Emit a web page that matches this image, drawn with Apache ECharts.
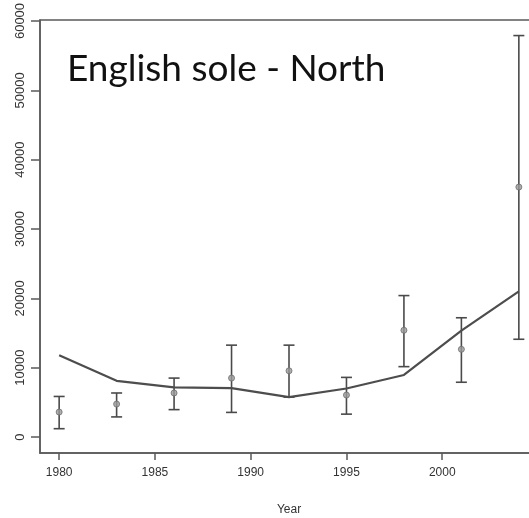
<!DOCTYPE html>
<html>
<head>
<meta charset="utf-8">
<script src="https://cdn.jsdelivr.net/npm/echarts@6/dist/echarts.min.js"></script>
<style>
  html, body { margin: 0; padding: 0; background: #fff; }
  #chart { width: 529px; height: 518px; }
</style>
</head>
<body>
<div id="chart"></div>
<script>
// Survey index for English sole (northern area): observed values with
// confidence intervals, and the fitted model trend.
const years    = [1980, 1983, 1986, 1989, 1992, 1995, 1998, 2001, 2004];
const observed = [3600, 4750, 6350, 8500, 9550, 6050, 15400, 12650, 36050];
const lower    = [1200, 2900, 3950, 3550, 5750, 3300, 10150, 7900, 14100];
const upper    = [5850, 6350, 8500, 13250, 13250, 8600, 20400, 17200, 57900];
const fitted   = [11800, 8100, 7150, 7050, 5750, 7000, 8950, 15350, 21000];

const yearTicks  = [1980, 1985, 1990, 1995, 2000];
const valueTicks = [0, 10000, 20000, 30000, 40000, 50000, 60000];

const axisColor = '#5a5a5a';
const textColor = '#333';

const chart = echarts.init(document.getElementById('chart'), null, { renderer: 'canvas' });

const errorBarData = years.map((y, i) => [y, lower[i], upper[i]]);
const pointData = years.map((y, i) => [y, observed[i]]);
const fitData = years.map((y, i) => [y, fitted[i]]);

const plain = v => String(Math.round(v));

chart.setOption({
  animation: false,
  backgroundColor: '#fff',
  grid: {
    left: 40, top: 20, right: -9, bottom: 65,
    outerBoundsMode: 'none',
    show: true, borderColor: axisColor, borderWidth: 1.5, backgroundColor: 'transparent'
  },
  graphic: [{
    type: 'text', left: 67, top: 51,
    style: {
      text: 'English sole - North',
      font: '37px Lato', fill: '#111'
    }
  }],
  xAxis: {
    type: 'value', min: 1979, max: 2005,
    name: 'Year', nameLocation: 'middle', nameGap: 51,
    nameTextStyle: { color: textColor, fontSize: 12, fontFamily: 'Liberation Sans' },
    axisLine: { show: true, onZero: false, lineStyle: { color: axisColor, width: 1.5 } },
    axisTick: { show: true, customValues: yearTicks, length: 7, lineStyle: { color: axisColor, width: 1.5 } },
    axisLabel: {
      customValues: yearTicks, formatter: plain, color: textColor, fontSize: 12,
      fontFamily: 'Liberation Sans', margin: 14
    },
    splitLine: { show: false }
  },
  yAxis: {
    type: 'value', min: -2305, max: 60145,
    axisLine: { show: true, onZero: false, lineStyle: { color: axisColor, width: 1.5 } },
    axisTick: { show: true, customValues: valueTicks, length: 9, lineStyle: { color: axisColor, width: 1.5 } },
    axisLabel: {
      customValues: valueTicks, formatter: plain, rotate: 90, color: textColor, fontSize: 13,
      fontFamily: 'Liberation Sans', margin: 13
    },
    splitLine: { show: false }
  },
  series: [
    {
      type: 'custom',
      name: 'interval',
      data: errorBarData,
      z: 3,
      renderItem: function (params, api) {
        const x = api.value(0);
        const lo = api.coord([x, api.value(1)]);
        const hi = api.coord([x, api.value(2)]);
        const half = 5.5;
        const style = { stroke: '#4a4a4a', lineWidth: 1.6 };
        return {
          type: 'group',
          children: [
            { type: 'line', shape: { x1: lo[0], y1: lo[1], x2: hi[0], y2: hi[1] }, style: style },
            { type: 'line', shape: { x1: lo[0] - half, y1: lo[1], x2: lo[0] + half, y2: lo[1] }, style: style },
            { type: 'line', shape: { x1: hi[0] - half, y1: hi[1], x2: hi[0] + half, y2: hi[1] }, style: style }
          ]
        };
      }
    },
    {
      type: 'line',
      name: 'fit',
      data: fitData,
      symbol: 'none',
      z: 4,
      lineStyle: { color: '#4d4d4d', width: 2.2 }
    },
    {
      type: 'scatter',
      name: 'observed',
      data: pointData,
      symbol: 'circle',
      symbolSize: 6,
      z: 5,
      itemStyle: { color: '#9a9a9a', borderColor: '#6e6e6e', borderWidth: 1 }
    }
  ]
});
</script>
</body>
</html>
